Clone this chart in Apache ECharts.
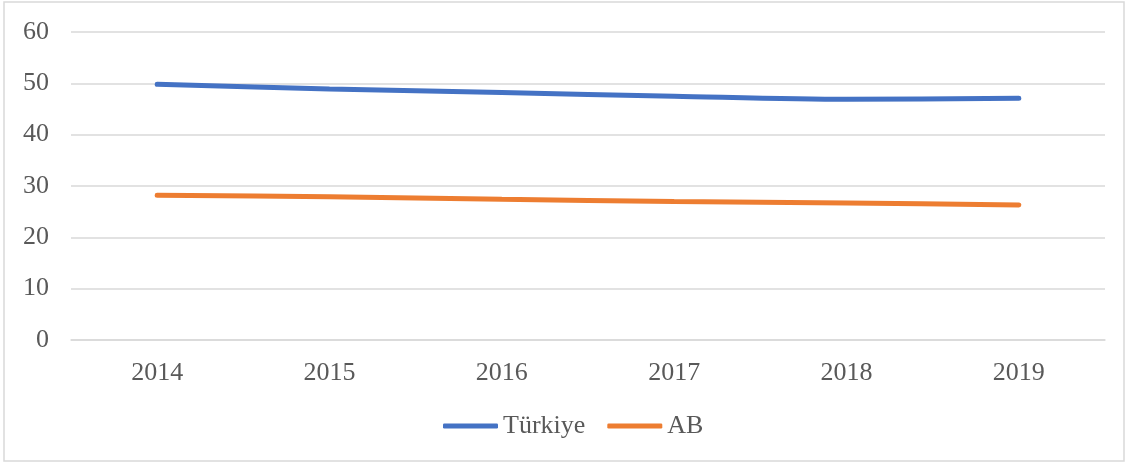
<!DOCTYPE html>
<html><head><meta charset="utf-8">
<script src="https://cdn.jsdelivr.net/npm/echarts@6/dist/echarts.min.js"></script>
<style>html,body{margin:0;padding:0;background:#fff}#c{width:1127px;height:464px}</style>
</head><body><div id="c"></div>
<script>
const categories = ['2014','2015','2016','2017','2018','2019'];
const turkiye = [49.8, 48.9, 48.2, 47.5, 46.9, 47.1];
const ab = [28.2, 27.9, 27.4, 27.0, 26.7, 26.3];
const yTicks = [0, 10, 20, 30, 40, 50, 60];

const chart = echarts.init(document.getElementById('c'), null, {renderer: 'canvas'});
const font = '"Liberation Serif","Times New Roman",serif';
chart.setOption({
  animation: false,
  backgroundColor: '#fff',
  graphic: [{type: 'rect', shape: {x: 4, y: 2, width: 1120, height: 459}, style: {fill: 'none', stroke: '#d9d9d9', lineWidth: 1.5}, silent: true}],
  grid: {left: 71, right: 22, top: 32, bottom: 124},
  xAxis: {
    type: 'category', data: categories, boundaryGap: true,
    axisLine: {show: true, lineStyle: {color: '#d9d9d9', width: 1.5}},
    axisTick: {show: false},
    axisLabel: {color: '#595959', fontFamily: font, fontSize: 26, margin: 20}
  },
  yAxis: {
    type: 'value', min: yTicks[0], max: yTicks[yTicks.length - 1], interval: 10,
    axisLine: {show: false}, axisTick: {show: false},
    splitLine: {lineStyle: {color: '#d9d9d9', width: 1.5}},
    axisLabel: {color: '#595959', fontFamily: font, fontSize: 26, margin: 22}
  },
  legend: {
    bottom: 20, left: 438, itemWidth: 55, itemHeight: 5, itemGap: 22,
    icon: 'roundRect',
    textStyle: {color: '#595959', fontFamily: font, fontSize: 26},
    data: ['Türkiye', 'AB']
  },
  series: [
    {name: 'Türkiye', type: 'line', data: turkiye, smooth: 0.3, symbol: 'none',
     lineStyle: {color: '#4472C4', width: 5, cap: 'round'}, itemStyle: {color: '#4472C4'}},
    {name: 'AB', type: 'line', data: ab, smooth: 0.3, symbol: 'none',
     lineStyle: {color: '#ED7D31', width: 5, cap: 'round'}, itemStyle: {color: '#ED7D31'}}
  ]
});
</script></body></html>
